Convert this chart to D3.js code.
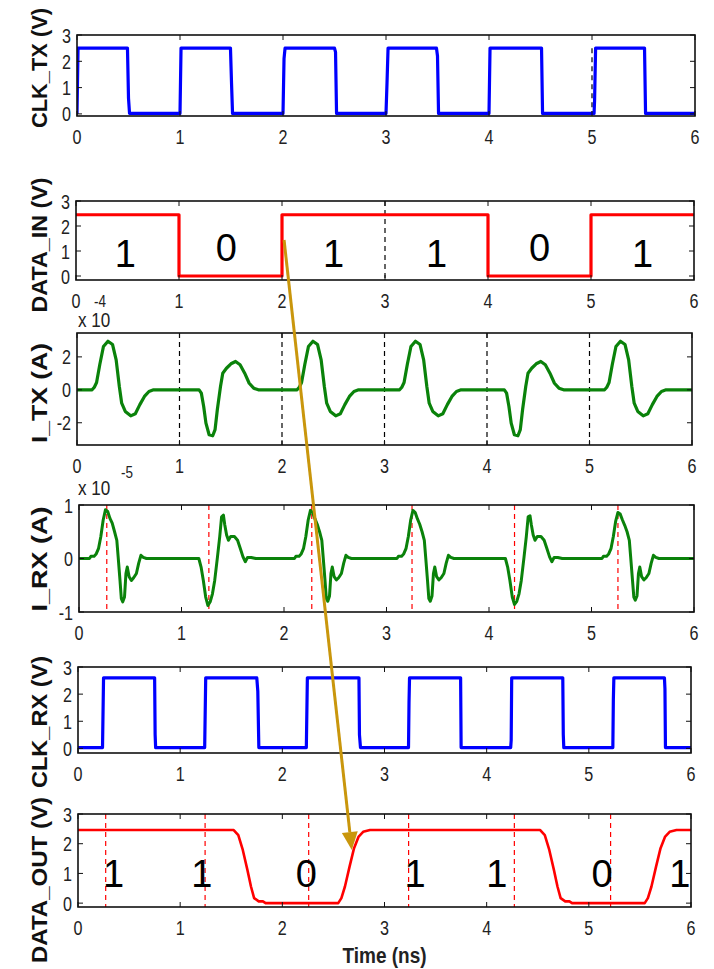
<!DOCTYPE html>
<html><head><meta charset="utf-8">
<script src="https://cdn.jsdelivr.net/npm/d3@7"></script>
<style>body{margin:0;background:#fff}svg{display:block}</style>
</head><body>
<svg id="c" width="714" height="969"></svg>
<script>
// ---------------- DATA ----------------
const xTickVals = [0, 1, 2, 3, 4, 5, 6];
const voltTicks = [0, 1, 2, 3];
const itxTicks = [-2, 0, 2];
const irxTicks = [-1, 0, 1];

const clkTx = [[0,0],[0.01,2.5],[0.49,2.5],[0.50,0.6],[0.51,0.02],[1.0,0.02],[1.01,2.5],[1.49,2.5],[1.50,1.2],[1.51,0.02],[2.0,0.02],[2.01,2.1],[2.02,2.5],[2.50,2.5],[2.51,2.35],[2.52,0.02],[3.0,0.02],[3.01,1.2],[3.02,2.5],[3.49,2.5],[3.50,2.2],[3.51,0.02],[4.0,0.02],[4.01,2.5],[4.51,2.5],[4.52,0.02],[5.02,0.02],[5.025,0.5],[5.035,2.5],[5.51,2.5],[5.52,0.02],[6,0.02]];
const clkTxMarks = [5];

const dataIn = [[0,2.45],[1,2.45],[1,0],[2,0],[2,2.45],[4,2.45],[4,0],[5,0],[5,2.45],[6,2.45]];
const dataInMarks = [3];
const dataInBits = ["1","0","1","1","0","1"];
const dataInBitPos = [0.48, 1.46, 2.5, 3.5, 4.5, 5.5];

// I_TX in units of 1e-4 A
const iTx = [
[0,0],[0.147,0],[0.169,0.16],[0.191,0.44],[0.222,1.52],[0.258,2.63],[0.302,2.95],[0.347,2.75],[0.382,1.82],[0.413,0.2],[0.436,-0.81],[0.471,-1.31],[0.524,-1.58],[0.569,-1.45],[0.613,-0.9],[0.658,-0.4],[0.702,-0.1],[0.747,0],
[1.191,0],[1.213,-0.2],[1.236,-1.01],[1.258,-2.02],[1.289,-2.73],[1.324,-2.79],[1.347,-2.42],[1.369,-1.21],[1.4,0.2],[1.422,1.01],[1.458,1.31],[1.502,1.58],[1.547,1.72],[1.591,1.52],[1.636,1.01],[1.68,0.4],[1.724,0.1],[1.769,0],
[2.147,0],[2.169,0.16],[2.191,0.44],[2.222,1.52],[2.258,2.63],[2.302,2.95],[2.347,2.75],[2.382,1.82],[2.413,0.2],[2.436,-0.81],[2.471,-1.31],[2.524,-1.58],[2.569,-1.45],[2.613,-0.9],[2.658,-0.4],[2.702,-0.1],[2.747,0],
[3.147,0],[3.169,0.16],[3.191,0.44],[3.222,1.52],[3.258,2.63],[3.302,2.95],[3.347,2.75],[3.382,1.82],[3.413,0.2],[3.436,-0.81],[3.471,-1.31],[3.524,-1.58],[3.569,-1.45],[3.613,-0.9],[3.658,-0.4],[3.702,-0.1],[3.747,0],
[4.169,0],[4.191,-0.2],[4.214,-1.01],[4.236,-2.02],[4.267,-2.73],[4.302,-2.79],[4.325,-2.42],[4.347,-1.21],[4.378,0.2],[4.4,1.01],[4.436,1.31],[4.48,1.58],[4.525,1.72],[4.569,1.52],[4.614,1.01],[4.658,0.4],[4.702,0.1],[4.747,0],
[5.147,0],[5.169,0.16],[5.191,0.44],[5.222,1.52],[5.258,2.63],[5.302,2.95],[5.347,2.75],[5.382,1.82],[5.413,0.2],[5.436,-0.81],[5.471,-1.31],[5.524,-1.58],[5.569,-1.45],[5.613,-0.9],[5.658,-0.4],[5.702,-0.1],[5.747,0],
[6,0]];
const iTxMarks = [1, 2, 3, 4, 5];

// I_RX in units of 1e-5 A
const iRx = [
[0,0],[0.102,0],[0.116,0.04],[0.147,0.04],[0.169,0.09],[0.191,0.19],[0.213,0.41],[0.236,0.72],[0.258,0.91],[0.28,0.88],[0.302,0.75],[0.324,0.66],[0.347,0.5],[0.369,0.34],[0.382,0.03],[0.4,-0.41],[0.413,-0.75],[0.427,-0.81],[0.444,-0.72],[0.458,-0.28],[0.471,-0.16],[0.489,-0.34],[0.511,-0.41],[0.533,-0.36],[0.56,-0.28],[0.582,-0.09],[0.604,0.06],[0.627,0.02],[0.658,0],
[1.169,0],[1.191,-0.16],[1.213,-0.41],[1.236,-0.72],[1.258,-0.88],[1.28,-0.81],[1.302,-0.66],[1.324,-0.41],[1.351,0.03],[1.373,0.41],[1.391,0.78],[1.409,0.81],[1.422,0.63],[1.44,0.44],[1.458,0.34],[1.48,0.41],[1.516,0.41],[1.547,0.34],[1.573,0.19],[1.6,0.03],[1.622,-0.06],[1.644,0.02],[1.68,0.02],[1.724,0],
[2.102,0],[2.116,0.04],[2.147,0.04],[2.169,0.09],[2.191,0.19],[2.213,0.41],[2.236,0.72],[2.258,0.9],[2.28,0.86],[2.302,0.74],[2.324,0.64],[2.347,0.5],[2.369,0.34],[2.382,0.03],[2.4,-0.41],[2.413,-0.75],[2.427,-0.8],[2.444,-0.7],[2.458,-0.28],[2.471,-0.16],[2.489,-0.34],[2.511,-0.4],[2.533,-0.36],[2.56,-0.28],[2.582,-0.09],[2.604,0.06],[2.627,0.02],[2.658,0],
[3.102,0],[3.116,0.04],[3.147,0.04],[3.169,0.09],[3.191,0.19],[3.213,0.41],[3.236,0.72],[3.258,0.9],[3.28,0.86],[3.302,0.74],[3.324,0.64],[3.347,0.5],[3.369,0.34],[3.382,0.03],[3.4,-0.41],[3.413,-0.75],[3.427,-0.8],[3.444,-0.7],[3.458,-0.28],[3.471,-0.16],[3.489,-0.34],[3.511,-0.4],[3.533,-0.36],[3.56,-0.28],[3.582,-0.09],[3.604,0.06],[3.627,0.02],[3.658,0],
[4.16,0],[4.182,-0.16],[4.204,-0.41],[4.227,-0.72],[4.249,-0.86],[4.271,-0.8],[4.293,-0.66],[4.315,-0.41],[4.342,0.03],[4.364,0.41],[4.382,0.78],[4.4,0.8],[4.413,0.63],[4.431,0.44],[4.449,0.34],[4.471,0.41],[4.507,0.41],[4.538,0.34],[4.564,0.19],[4.591,0.03],[4.613,-0.06],[4.635,0.02],[4.671,0.02],[4.715,0],
[5.102,0],[5.116,0.04],[5.147,0.04],[5.169,0.09],[5.191,0.19],[5.213,0.41],[5.236,0.7],[5.258,0.86],[5.28,0.83],[5.302,0.72],[5.324,0.62],[5.347,0.5],[5.369,0.34],[5.382,0.03],[5.4,-0.41],[5.413,-0.72],[5.427,-0.78],[5.444,-0.7],[5.458,-0.28],[5.471,-0.16],[5.489,-0.34],[5.511,-0.4],[5.533,-0.36],[5.56,-0.28],[5.582,-0.09],[5.604,0.06],[5.627,0.02],[5.658,0],
[6,0]];
const iRxMarks = [0.271, 1.267, 2.271, 3.249, 4.249, 5.258];

const clkRx = [[0,0.03],[0.24,0.03],[0.25,2.6],[0.75,2.6],[0.755,0.5],[0.76,0.03],[1.24,0.03],[1.25,2.6],[1.75,2.6],[1.76,2.1],[1.77,0.03],[2.235,0.03],[2.245,2.6],[2.75,2.6],[2.755,0.5],[2.765,0.03],[3.235,0.03],[3.24,1.7],[3.245,2.6],[3.745,2.6],[3.75,0.03],[4.235,0.03],[4.24,0.3],[4.245,2.6],[4.745,2.6],[4.75,0.5],[4.755,0.03],[5.235,0.03],[5.24,1.8],[5.245,2.6],[5.74,2.6],[5.745,2.2],[5.75,0.03],[6,0.03]];

const dataOut = [[0,2.46],[1.524,2.46],[1.569,2.29],[1.613,1.79],[1.658,1.12],[1.693,0.56],[1.724,0.17],[1.769,0.06],[1.81,0.06],[1.836,0],[2.547,0],[2.578,0.17],[2.613,0.56],[2.658,1.23],[2.702,1.85],[2.747,2.24],[2.791,2.4],[2.858,2.46],[4.524,2.46],[4.569,2.29],[4.613,1.79],[4.658,1.12],[4.693,0.56],[4.724,0.17],[4.769,0.06],[4.81,0.06],[4.836,0],[5.547,0],[5.578,0.17],[5.613,0.56],[5.658,1.23],[5.702,1.85],[5.747,2.24],[5.791,2.4],[5.858,2.46],[6,2.46]];
const dataOutMarks = [0.271, 1.244, 2.258, 3.236, 4.271, 5.213];
const dataOutBits = ["1","1","0","1","1","0","1"];
const dataOutBitPos = [0.347, 1.213, 2.236, 3.30, 4.10, 5.13, 5.89];

// arrow from DATA_IN (t,v) to DATA_OUT (t,v)
const arrowFrom = [2.02, 1.44];
const arrowTo = [2.68, 1.79];

// ---------------- LAYOUT ----------------
const svg = d3.select('#c');
const FONT = "'Liberation Sans', Arial, sans-serif";
const panels = [
 {id:'p1', label:'CLK_TX (V)', lc:68, ll:120, x0:77, x1:695, y0:35,  y1:116, ylim:[-0.08,3], yt:voltTicks, pts:clkTx,  color:'#0000ff', w:3.2, marks:clkTxMarks, mcol:'#000', mrange:[0,2.5]},
 {id:'p2', label:'DATA_IN (V)', lc:245, ll:135, x0:76, x1:694, y0:201, y1:280, ylim:[-0.16,3], yt:voltTicks, pts:dataIn, color:'#ff0000', w:3.2, marks:dataInMarks, mcol:'#000'},
 {id:'p3', label:'I_TX (A)', lc:393, ll:100, x0:77, x1:692, y0:333, y1:445, ylim:[-3.35,3.45], yt:itxTicks, pts:iTx, color:'#0a820a', w:3.2, marks:iTxMarks, mcol:'#000'},
 {id:'p4', label:'I_RX (A)', lc:559, ll:105, x0:79, x1:694, y0:505, y1:612, ylim:[-1,1], yt:irxTicks, pts:iRx, color:'#0a820a', w:3, marks:iRxMarks, mcol:'#ff0000'},
 {id:'p5', label:'CLK_RX (V)', lc:722, ll:132, x0:78, x1:691, y0:667, y1:753, ylim:[-0.17,3], yt:voltTicks, pts:clkRx, color:'#0000ff', w:3.2, marks:[], mcol:'#000'},
 {id:'p6', label:'DATA_OUT (V)', lc:880, ll:166, x0:78, x1:691, y0:814, y1:907, ylim:[-0.13,3], yt:voltTicks, pts:dataOut, color:'#ff0000', w:2.6, marks:dataOutMarks, mcol:'#ff0000'}
];
const defs = svg.append('defs');

panels.forEach(p => {
  p.x = d3.scaleLinear().domain([0,6]).range([p.x0, p.x1]);
  p.y = d3.scaleLinear().domain(p.ylim).range([p.y1, p.y0]);
  defs.append('clipPath').attr('id','clip-'+p.id).append('rect')
    .attr('x',p.x0).attr('y',p.y0).attr('width',p.x1-p.x0).attr('height',p.y1-p.y0);
  const g = svg.append('g');
  const inner = g.append('g').attr('clip-path','url(#clip-'+p.id+')');

  // dashed markers
  const my1 = p.mrange ? p.y(p.mrange[1]) : p.y0;
  const my2 = p.mrange ? p.y(p.mrange[0]) : p.y1;
  inner.selectAll('line.m').data(p.marks).join('line').attr('class','m')
    .attr('x1',d=>p.x(d)).attr('x2',d=>p.x(d)).attr('y1',my1).attr('y2',my2)
    .attr('stroke',p.mcol).attr('stroke-width',1.2).attr('stroke-dasharray','5,4');

  // data curve
  inner.append('path').datum(p.pts)
    .attr('d', d3.line().x(d=>p.x(d[0])).y(d=>p.y(d[1])))
    .attr('fill','none').attr('stroke',p.color).attr('stroke-width',p.w)
    .attr('stroke-linejoin','round');

  // frame
  g.append('rect').attr('x',p.x0).attr('y',p.y0).attr('width',p.x1-p.x0).attr('height',p.y1-p.y0)
    .attr('fill','none').attr('stroke','#111').attr('stroke-width',1.6);

  // ticks (inside, all sides)
  const tl = 5;
  g.selectAll('line.xb').data(xTickVals).join('line').attr('class','xb')
    .attr('x1',d=>p.x(d)).attr('x2',d=>p.x(d)).attr('y1',p.y1).attr('y2',p.y1-tl)
    .attr('stroke','#111').attr('stroke-width',1);
  g.selectAll('line.xt').data(xTickVals).join('line').attr('class','xt')
    .attr('x1',d=>p.x(d)).attr('x2',d=>p.x(d)).attr('y1',p.y0).attr('y2',p.y0+tl)
    .attr('stroke','#111').attr('stroke-width',1);
  g.selectAll('line.yl').data(p.yt).join('line').attr('class','yl')
    .attr('x1',p.x0).attr('x2',p.x0+tl).attr('y1',d=>p.y(d)).attr('y2',d=>p.y(d))
    .attr('stroke','#111').attr('stroke-width',1);
  g.selectAll('line.yr').data(p.yt).join('line').attr('class','yr')
    .attr('x1',p.x1).attr('x2',p.x1-tl).attr('y1',d=>p.y(d)).attr('y2',d=>p.y(d))
    .attr('stroke','#111').attr('stroke-width',1);

  // tick labels
  g.selectAll('text.xl').data(xTickVals).join('text').attr('class','xl')
    .attr('transform',d=>`translate(${p.x(d)},${p.y1+28}) scale(0.85,1.1)`).attr('text-anchor','middle')
    .attr('font-family',FONT).attr('font-size',19).attr('fill','#222').text(d=>d);
  g.selectAll('text.ylb').data(p.yt).join('text').attr('class','ylb')
    .attr('transform',d=>`translate(${p.x0-6},${p.y(d)}) scale(0.85,1.1)`).attr('dy','0.36em').attr('text-anchor','end')
    .attr('font-family',FONT).attr('font-size',19).attr('fill','#222').text(d=>d);

  // y axis label (rotated, bold)
  g.append('text').attr('transform',`translate(47,${p.lc}) rotate(-90)`)
    .attr('text-anchor','middle').attr('font-family',FONT).attr('font-weight','bold')
    .attr('textLength',p.ll).attr('lengthAdjust','spacingAndGlyphs')
    .attr('font-size',22).attr('fill','#111').text(p.label);
});

const P = Object.fromEntries(panels.map(p=>[p.id,p]));

// exponent labels
function expLabel(base, exp, bx, by, ex, ey){
  svg.append('text').attr('transform',`translate(${bx},${by}) scale(0.9,1.1)`).attr('font-family',FONT).attr('font-size',19).attr('fill','#222').text(base);
  svg.append('text').attr('transform',`translate(${ex},${ey}) scale(0.9,1.1)`).attr('font-family',FONT).attr('font-size',15).attr('fill','#222').text(exp);
}
expLabel('x 10','-4', 78, 327, 94, 307);
expLabel('x 10','-5', 78, 495, 121, 478);

// bit labels
svg.selectAll('text.bi').data(dataInBits).join('text').attr('class','bi')
  .attr('x',(d,i)=>P.p2.x(dataInBitPos[i])).attr('y',d=>d==='0'?261:267)
  .attr('text-anchor','middle').attr('font-family',FONT).attr('font-size',38).attr('fill','#000').text(d=>d);
svg.selectAll('text.bo').data(dataOutBits).join('text').attr('class','bo')
  .attr('x',(d,i)=>P.p6.x(dataOutBitPos[i])).attr('y',887)
  .attr('text-anchor','middle').attr('font-family',FONT).attr('font-size',38).attr('fill','#000').text(d=>d);

// x axis title
svg.append('text').attr('transform',`translate(${(P.p6.x0+P.p6.x1)/2},963) scale(0.95,1.1)`).attr('text-anchor','middle')
  .attr('font-family',FONT).attr('font-weight','bold').attr('font-size',20).attr('fill','#222').text('Time (ns)');

// arrow
const ax1 = P.p2.x(arrowFrom[0]), ay1 = P.p2.y(arrowFrom[1]);
const ax2 = P.p6.x(arrowTo[0]), ay2 = P.p6.y(arrowTo[1]);
const ang = Math.atan2(ay2-ay1, ax2-ax1);
const hl = 18, hw = 8;
const bxp = ax2 - hl*Math.cos(ang), byp = ay2 - hl*Math.sin(ang);
svg.append('line').attr('x1',ax1).attr('y1',ay1).attr('x2',bxp).attr('y2',byp)
  .attr('stroke','#c9960c').attr('stroke-width',3);
svg.append('path').attr('d',`M${ax2},${ay2} L${bxp+hw*Math.sin(ang)},${byp-hw*Math.cos(ang)} L${bxp-hw*Math.sin(ang)},${byp+hw*Math.cos(ang)} Z`)
  .attr('fill','#c9960c');
</script>
</body></html>
